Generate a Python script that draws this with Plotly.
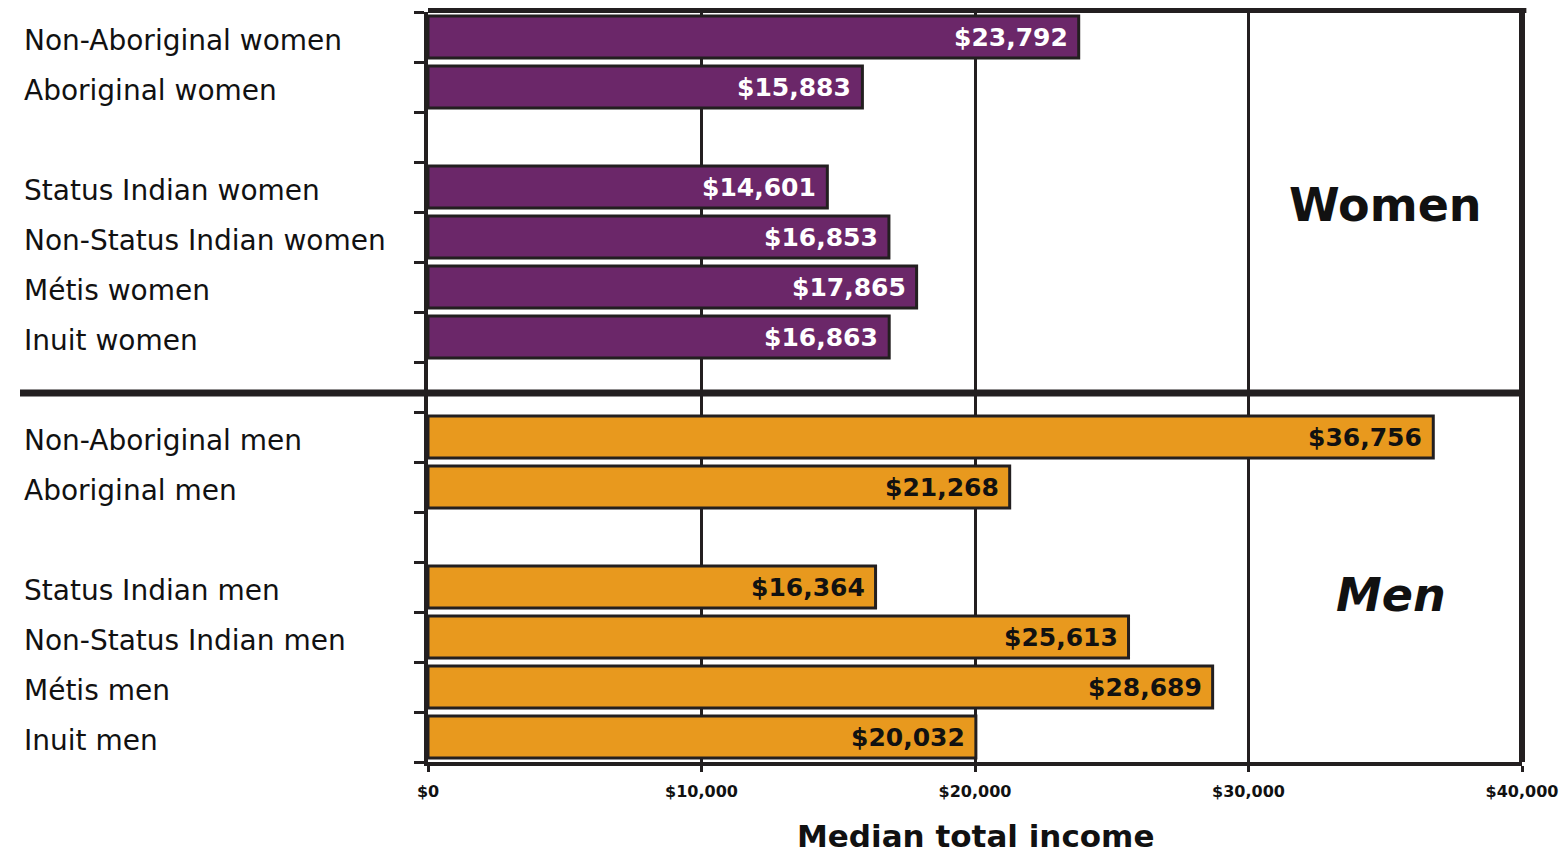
import plotly.graph_objects as go

# Median total income by group
women_groups = ["Non-Aboriginal women", "Aboriginal women", "Status Indian women",
                "Non-Status Indian women", "Métis women", "Inuit women"]
women_income = [23792, 15883, 14601, 16853, 17865, 16863]

men_groups = ["Non-Aboriginal men", "Aboriginal men", "Status Indian men",
              "Non-Status Indian men", "Métis men", "Inuit men"]
men_income = [36756, 21268, 16364, 25613, 28689, 20032]

# row slots (top to bottom); slot 2/10 are spacers, slot 7 holds the divider
women_rows = [0, 1, 3, 4, 5, 6]
men_rows = [8, 9, 11, 12, 13, 14]

x_ticks = [0, 10000, 20000, 30000, 40000]
x_tick_labels = ["$0", "$10,000", "$20,000", "$30,000", "$40,000"]

PURPLE = "#6B2769"
ORANGE = "#E8991E"
INK = "#231F20"
FONT = "DejaVu Sans, Liberation Sans, Arial, sans-serif"

W, H = 1564, 855
M_L, M_R, M_T, M_B = 428, 42, 12, 93
plot_w = W - M_L - M_R
plot_h = H - M_T - M_B

fig = go.Figure()

fig.add_trace(go.Bar(
    x=women_income, y=women_rows, orientation="h", width=0.84,
    marker=dict(color=PURPLE, line=dict(color=INK, width=3)),
    hoverinfo="skip", showlegend=False,
))
fig.add_trace(go.Bar(
    x=men_income, y=men_rows, orientation="h", width=0.84,
    marker=dict(color=ORANGE, line=dict(color=INK, width=3)),
    hoverinfo="skip", showlegend=False,
))

annotations = []
label_x = (22 - M_L) / plot_w

for name, row in zip(women_groups + men_groups, women_rows + men_rows):
    annotations.append(dict(
        x=label_x, xref="paper", y=row, yref="y", text=name,
        xanchor="left", yanchor="middle", yshift=-3, showarrow=False,
        font=dict(family=FONT, size=28, color="#111111"),
    ))

for val, row in zip(women_income, women_rows):
    annotations.append(dict(
        x=val, xref="x", y=row, yref="y", text=f"${val:,}",
        xanchor="right", yanchor="middle", xshift=-9, showarrow=False,
        font=dict(family=FONT, size=25, color="white", weight="bold"),
    ))
for val, row in zip(men_income, men_rows):
    annotations.append(dict(
        x=val, xref="x", y=row, yref="y", text=f"${val:,}",
        xanchor="right", yanchor="middle", xshift=-9, showarrow=False,
        font=dict(family=FONT, size=25, color="#111111", weight="bold"),
    ))

annotations.append(dict(
    x=(1385 - M_L) / plot_w, xref="paper", y=(H - M_B - 205) / plot_h, yref="paper",
    text="Women", showarrow=False, xanchor="center", yanchor="middle",
    font=dict(family=FONT, size=46, color="#111111", weight="bold"),
))
annotations.append(dict(
    x=(1391 - M_L) / plot_w, xref="paper", y=(H - M_B - 595) / plot_h, yref="paper",
    text="<i>Men</i>", showarrow=False, xanchor="center", yanchor="middle",
    font=dict(family=FONT, size=46, color="#111111", weight="bold"),
))
annotations.append(dict(
    x=0.5, xref="paper", y=-(836 - (H - M_B)) / plot_h, yref="paper",
    text="Median total income", showarrow=False, xanchor="center", yanchor="middle",
    font=dict(family=FONT, size=31, color="#111111", weight="bold"),
))

shapes = [
    # divider between women and men
    dict(type="line", xref="paper", yref="y", x0=(20 - M_L) / plot_w, x1=1,
         y0=7.12, y1=7.12, line=dict(color=INK, width=7)),
    # top border
    dict(type="line", xref="paper", yref="paper", x0=0, x1=1.004, y0=1.002, y1=1.002,
         line=dict(color=INK, width=5)),
    # right border
    dict(type="line", xref="paper", yref="paper", x0=1, x1=1, y0=0, y1=1.002,
         line=dict(color=INK, width=6)),
]

fig.update_layout(
    width=W, height=H,
    margin=dict(l=M_L, r=M_R, t=M_T, b=M_B, autoexpand=False),
    paper_bgcolor="white", plot_bgcolor="white",
    barmode="overlay",
    annotations=annotations, shapes=shapes,
    xaxis=dict(
        range=[0, 40000], tickvals=x_ticks, ticktext=x_tick_labels,
        showgrid=True, gridcolor=INK, gridwidth=3,
        showline=True, linecolor=INK, linewidth=4,
        ticks="outside", ticklen=6, tickwidth=3, tickcolor=INK,
        ticklabelstandoff=6, automargin=False,
        tickfont=dict(family=FONT, size=16, color="#111111", weight="bold"),
        zeroline=False, fixedrange=True,
    ),
    yaxis=dict(
        range=[14.5, -0.5],
        tickvals=[i - 0.5 for i in range(16)], ticktext=[""] * 16,
        showgrid=False, zeroline=False, automargin=False,
        showline=True, linecolor=INK, linewidth=4,
        ticks="outside", ticklen=10, tickwidth=3, tickcolor=INK,
        fixedrange=True,
    ),
)

fig.write_html("out.html")
